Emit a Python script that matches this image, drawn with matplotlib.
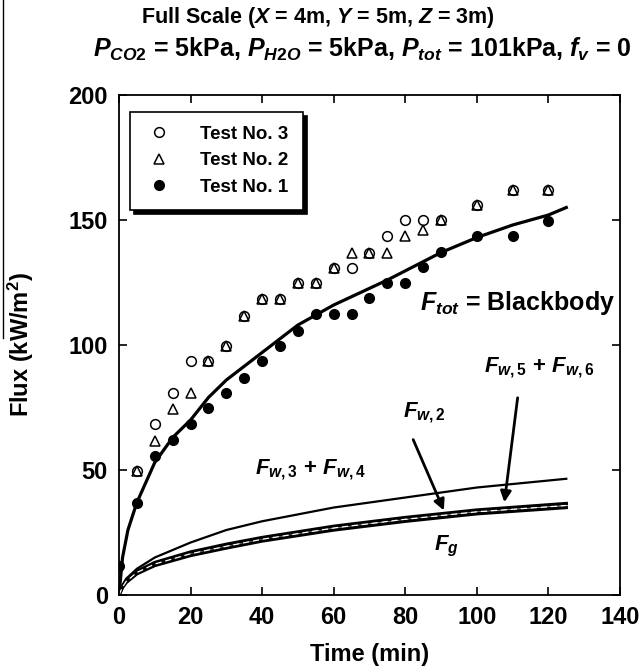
import matplotlib
matplotlib.use("Agg")
from matplotlib import pyplot as plt
from matplotlib.lines import Line2D

plt.rcParams['font.family'] = ['Liberation Sans', 'DejaVu Sans']
plt.rcParams['font.weight'] = 'bold'
plt.rcParams['mathtext.fontset'] = 'custom'
plt.rcParams['mathtext.it'] = 'Liberation Sans:italic:bold'
plt.rcParams['mathtext.rm'] = 'Liberation Sans:bold'
plt.rcParams['mathtext.bf'] = 'Liberation Sans:bold'

# measured points (min, kW/m2)
t_test1 = [0, 5, 10, 15, 20, 25, 30, 35, 40, 45, 50, 55, 60, 65, 70, 75, 80, 85, 90, 100, 110, 120]
f_test1 = [11.6, 37, 55.6, 62, 68.4, 74.7, 80.7, 86.7, 93.6, 99.7, 105.7, 112.3, 112.3, 112.3, 118.7,
           125, 125, 131.3, 137.3, 143.6, 143.6, 149.7]
t_test2 = [5, 10, 15, 20, 25, 30, 35, 40, 45, 50, 55, 60, 65, 70, 75, 80, 85, 90, 100, 110, 120]
f_test2 = [49.6, 61.7, 74.4, 81, 93.6, 99.7, 111.7, 118.4, 118.4, 125, 125, 130.7, 137, 137, 137,
           143.5, 146, 150, 156, 162, 162]
t_test3 = [5, 10, 15, 20, 25, 30, 35, 40, 45, 50, 55, 60, 65, 70, 75, 80, 85, 90, 100, 110, 120]
f_test3 = [49.6, 68.4, 81, 93.6, 93.6, 99.7, 111.7, 118.4, 118.4, 125, 125, 130.7, 130.7, 137, 143.6,
           150, 150, 150, 156, 162, 162]

# computed curves
t_tot = [0, 1, 2.5, 5, 10, 15, 20, 25, 30, 40, 50, 60, 75, 90, 100, 110, 120, 125]
f_tot = [0, 15, 26, 37, 53, 63, 70, 79, 86, 97, 108, 116, 126, 137, 143, 148, 152, 155]

t_walls = [0, 1, 2, 5, 10, 20, 30, 40, 60, 80, 100, 125]
f_w34 = [0, 4, 6.5, 10.5, 15, 21, 26, 29.5, 35, 39, 43, 46.5]
f_w2 = [0, 3.5, 5.8, 9.5, 13, 17.2, 20.3, 23, 27.5, 31, 34, 36.6]
f_w56 = [0, 3.2, 5.4, 9, 12.4, 16.5, 19.5, 22.3, 26.8, 30.3, 33.3, 35.8]
f_g = [0, 3, 5, 8.5, 11.8, 15.8, 18.8, 21.6, 26, 29.5, 32.5, 35]

fig = plt.figure(figsize=(6.41, 6.70), dpi=100)
ax = fig.add_axes([0.1856, 0.1119, 0.7816, 0.7463])

ax.plot(t_tot, f_tot, color='black', lw=2.3)
ax.plot(t_walls, f_w34, color='black', lw=1.6)
ax.plot(t_walls, f_w2, color='black', lw=2.4)
ax.plot(t_walls, f_g, color='black', lw=2.4)
ax.plot(t_walls, f_w56, color='white', lw=0.9, dashes=(5, 3))

ax.plot(t_test3, f_test3, 'o', mfc='white', mec='black', ms=7, mew=1.1, label='Test No. 3')
ax.plot(t_test2, f_test2, '^', mfc='none', mec='black', ms=7, mew=1.1, label='Test No. 2')
ax.plot(t_test1, f_test1, 'o', mfc='black', mec='black', ms=7, label='Test No. 1')

ax.set_xlim(0, 140)
ax.set_ylim(0, 200)
ax.set_xticks(range(0, 141, 20))
ax.set_yticks(range(0, 201, 50))
ax.tick_params(direction='in', length=6, width=1.2, top=True, right=True,
               labelsize=17, pad=8)
for lbl in ax.get_xticklabels() + ax.get_yticklabels():
    lbl.set_fontweight('bold')
for s in ax.spines.values():
    s.set_linewidth(1.3)

ax.set_xlabel('Time (min)', fontsize=17, fontweight='bold', labelpad=10)
ax.set_ylabel('Flux (kW/m$^{2}$)', fontsize=17, fontweight='bold')
ax.yaxis.set_label_coords(-0.166, 0.5)

leg = ax.legend(loc='upper left', bbox_to_anchor=(0.022, 0.967), fontsize=13.5,
                frameon=True, fancybox=False,
                shadow={'color': 'black', 'alpha': 1, 'ox': 3, 'oy': -3},
                edgecolor='black', framealpha=1, handlelength=1.6, handletextpad=1.4,
                borderpad=0.75, labelspacing=0.5, borderaxespad=0.0)
leg.get_frame().set_linewidth(1.2)

ax.text(84, 117, r'$F_{tot}$ = Blackbody', fontsize=18, fontweight='bold', va='center')
ax.text(38, 50, r'$F_{w,3}$ + $F_{w,4}$', fontsize=16, va='center')
ax.text(102, 91, r'$F_{w,5}$ + $F_{w,6}$', fontsize=16, va='center')
ax.text(79.5, 73, r'$F_{w,2}$', fontsize=16, va='center')
ax.text(88, 19.5, r'$F_{g}$', fontsize=16, va='center')

ax.annotate('', xy=(91.1, 32.8), xytext=(81.9, 63.2),
            arrowprops=dict(arrowstyle='-|>', color='black', lw=2, mutation_scale=16))
ax.annotate('', xy=(107.6, 36), xytext=(111.5, 80),
            arrowprops=dict(arrowstyle='-|>', color='black', lw=2, mutation_scale=16))

fig.text(0.496, 0.9746, r'Full Scale ($X$ = 4m, $Y$ = 5m, $Z$ = 3m)', fontsize=15.5,
         fontweight='bold', ha='center', va='center')
fig.text(0.565, 0.927, r'$P_{CO2}$ = 5kPa, $P_{H2O}$ = 5kPa, $P_{tot}$ = 101kPa, $f_{v}$ = 0',
         fontsize=18, fontweight='bold', ha='center', va='center')

fig.add_artist(Line2D([3 / 641, 3 / 641], [1, 1 - 338 / 670], color='black', lw=1))

fig.savefig('out.png', dpi=100)
